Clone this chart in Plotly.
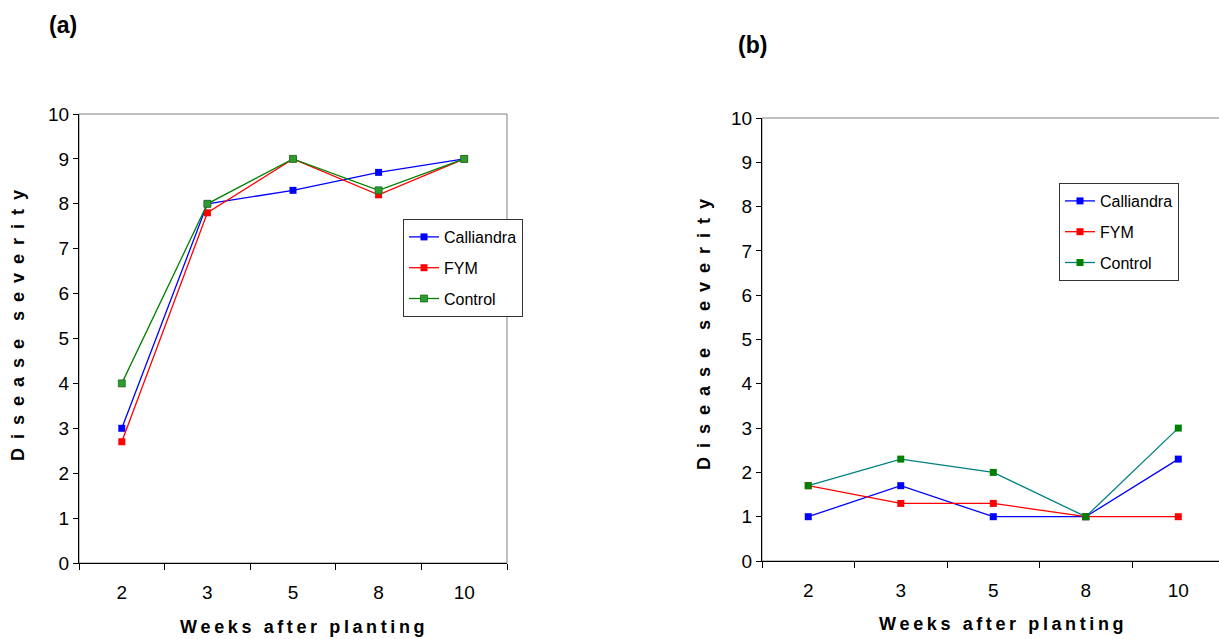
import plotly.graph_objects as go

W, H = 1219, 639

weeks = ["2", "3", "5", "8", "10"]
series_names = ["Calliandra", "FYM", "Control"]

# Panel (a)
a_calliandra = [3.0, 8.0, 8.3, 8.7, 9.0]
a_fym = [2.7, 7.8, 9.0, 8.2, 9.0]
a_control = [4.0, 8.0, 9.0, 8.3, 9.0]

# Panel (b)
b_calliandra = [1.0, 1.7, 1.0, 1.0, 2.3]
b_fym = [1.7, 1.3, 1.3, 1.0, 1.0]
b_control = [1.7, 2.3, 2.0, 1.0, 3.0]

y_ticks = list(range(0, 11))


def px_x(x):
    return x / W


def px_y(y):
    return 1 - y / H


FONT = "Arial, Liberation Sans, sans-serif"

fig = go.Figure()

line_cols_a = ["#0000FF", "#FF0000", "#008000"]
mark_cols_a = ["#0000FF", "#FF0000", "#2E9B2E"]
line_cols_b = ["#0000FF", "#FF0000", "#008080"]
mark_cols_b = ["#0000FF", "#FF0000", "#008000"]

for name, vals, lc, mc in zip(series_names, [a_calliandra, a_fym, a_control], line_cols_a, mark_cols_a):
    fig.add_trace(go.Scatter(
        x=weeks, y=vals, name=name, mode="lines+markers",
        line=dict(color=lc, width=1.3),
        marker=dict(symbol="square", size=7, color=mc,
                    line=dict(width=0.8 if name == "Control" else 0, color="#1E6B1E")),
        xaxis="x", yaxis="y", legend="legend", legendgroup="a" + name,
    ))

for name, vals, lc, mc in zip(series_names, [b_calliandra, b_fym, b_control], line_cols_b, mark_cols_b):
    fig.add_trace(go.Scatter(
        x=weeks, y=vals, name=name, mode="lines+markers",
        line=dict(color=lc, width=1.3),
        marker=dict(symbol="square", size=7, color=mc, line=dict(width=0)),
        xaxis="x2", yaxis="y2", legend="legend2", legendgroup="b" + name,
    ))

common_x = dict(
    type="category", categoryorder="array", categoryarray=weeks,
    showline=True, linecolor="black", linewidth=1,
    ticks="outside", tickson="boundaries", ticklen=6, tickcolor="black",
    tickfont=dict(family=FONT, size=19, color="black"),
    showgrid=False, zeroline=False, ticklabelstandoff=12,
)
common_y = dict(
    range=[0, 10], tickvals=y_ticks,
    showline=True, linecolor="black", linewidth=1,
    ticks="outside", ticklen=5, tickcolor="black",
    tickfont=dict(family=FONT, size=19, color="black"),
    showgrid=False, zeroline=False,
)

legend_common = dict(
    font=dict(family=FONT, size=16, color="black"),
    bgcolor="white", bordercolor="#333333", borderwidth=1,
    xanchor="left", yanchor="top", traceorder="grouped",
    tracegroupgap=7, itemwidth=30,
)

fig.update_layout(
    width=W, height=H,
    margin=dict(l=0, r=0, t=0, b=0, pad=0, autoexpand=False),
    paper_bgcolor="white", plot_bgcolor="white",
    xaxis=dict(domain=[px_x(79), px_x(507)], range=[-0.5, 4.5], anchor="y", **common_x),
    yaxis=dict(domain=[px_y(563), px_y(114)], anchor="x", **common_y),
    xaxis2=dict(domain=[px_x(762), 1.0], range=[-0.5, 4.44], anchor="y2", **common_x),
    yaxis2=dict(domain=[px_y(561), px_y(118)], anchor="x2", **common_y),
    legend=dict(x=px_x(403), y=px_y(219), **legend_common),
    legend2=dict(x=px_x(1059), y=px_y(183), **legend_common),
    showlegend=True,
)

# Plot frames (top/right in grey)
fig.add_shape(type="rect", xref="x domain", yref="y domain", x0=0, x1=1, y0=0, y1=1,
              line=dict(color="#808080", width=1), layer="below")
fig.add_shape(type="rect", xref="x2 domain", yref="y2 domain", x0=0, x1=1.05, y0=0, y1=1,
              line=dict(color="#808080", width=1), layer="below")

G = "\u2002"
ytitle = G.join("Disease") + G + G + G.join("severity")
h = "\u2009"
xtitle = h.join("Weeks") + h + "\u00a0" + h + h.join("after") + h + "\u00a0" + h + h.join("planting")

annos = [
    dict(text="<b>(a)</b>", x=px_x(63), y=px_y(25), size=23),
    dict(text="<b>(b)</b>", x=px_x(752), y=px_y(45), size=23),
    dict(text="<b>" + xtitle + "</b>", x=px_x(302), y=px_y(627), size=18),
    dict(text="<b>" + xtitle + "</b>", x=px_x(1001), y=px_y(624), size=18),
]
for an in annos:
    fig.add_annotation(text=an["text"], x=an["x"], y=an["y"], xref="paper", yref="paper",
                       showarrow=False, xanchor="center", yanchor="middle",
                       font=dict(family=FONT, size=an["size"], color="black"))

for xx, yy in [(18, 326), (704, 335)]:
    fig.add_annotation(text="<b>" + ytitle + "</b>", x=px_x(xx), y=px_y(yy), xref="paper", yref="paper",
                       showarrow=False, xanchor="center", yanchor="middle", textangle=-90,
                       font=dict(family=FONT, size=18, color="black"))

fig.write_html("out.html")
